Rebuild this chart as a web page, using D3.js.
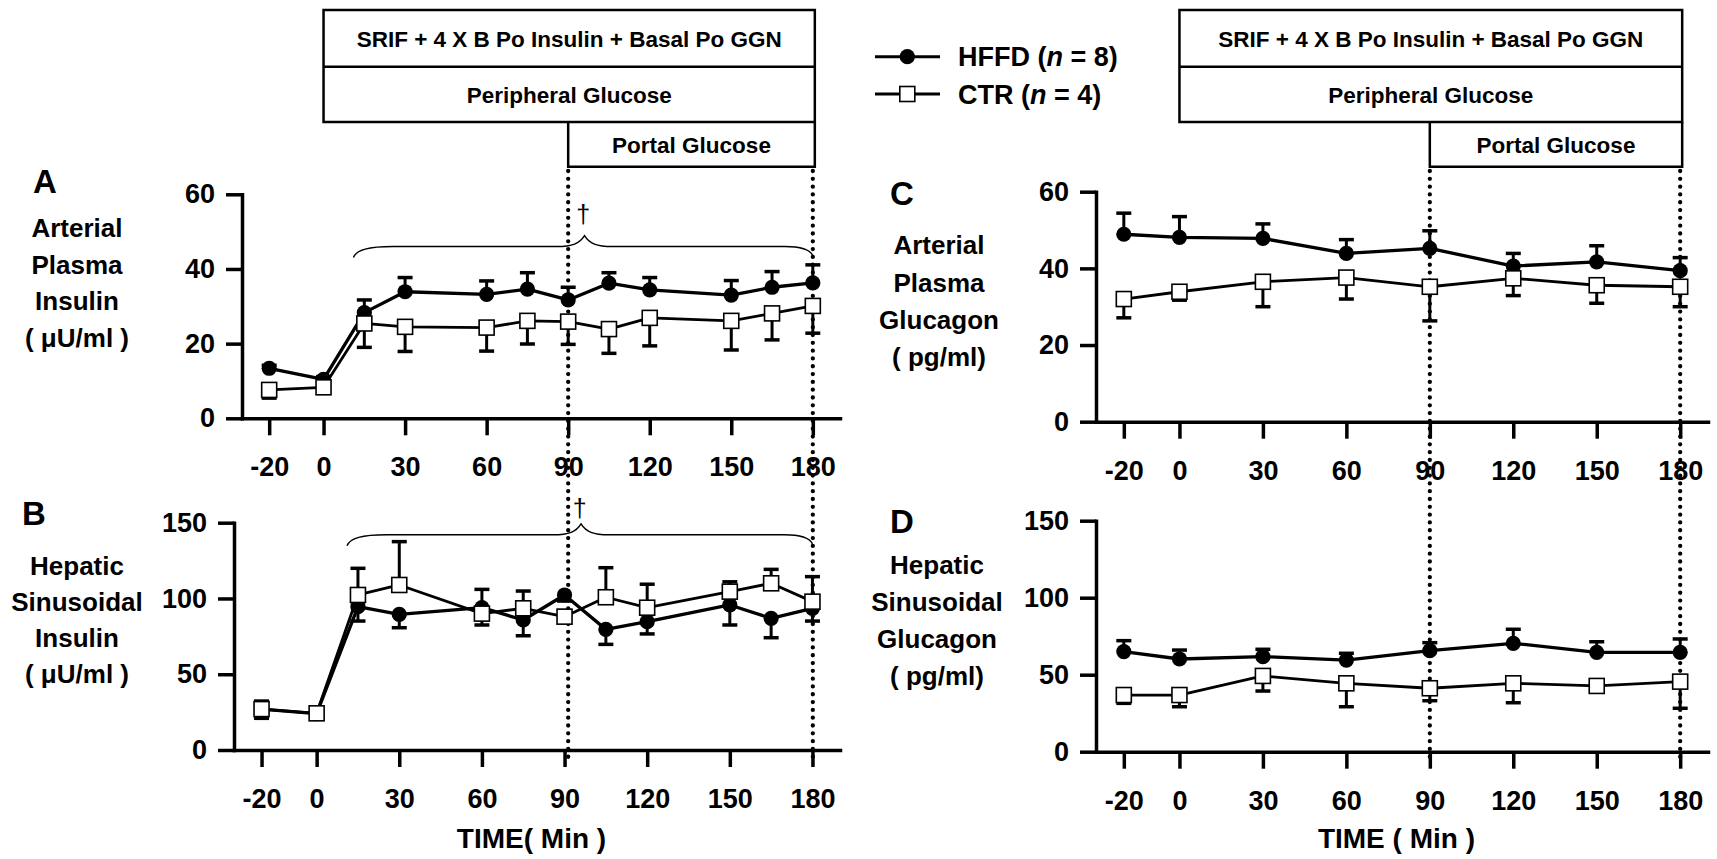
<!DOCTYPE html>
<html>
<head>
<meta charset="utf-8">
<script src="https://cdn.jsdelivr.net/npm/d3@7"></script>
<style>
  body { margin: 0; background: #fff; }
  svg { display: block; }
</style>
</head>
<body>
<svg id="chart" width="1717" height="859"></svg>
<script>
// ---- sampling times (min) and tick labels ----
const timesInsulin  = [-20, 0, 15, 30, 60, 75, 90, 105, 120, 150, 165, 180];
const timesGlucagon = [-20, 0, 30, 60, 90, 120, 150, 180];
const xTickValues   = [-20, 0, 30, 60, 90, 120, 150, 180];
const yTicksSmall   = [0, 20, 40, 60];
const yTicksLarge   = [0, 50, 100, 150];

// ---- A: arterial plasma insulin (µU/ml), mean and SEM ----
const artInsHFFD    = [13.4, 10.4, 28.3, 33.9, 33.2, 34.6, 31.7, 36.2, 34.4, 33.0, 35.1, 36.3];
const artInsHFFDsem = [0.8, 0.8, 3.4, 3.8, 3.6, 4.4, 3.4, 2.8, 3.3, 3.9, 4.2, 4.8];
const artInsCTR     = [7.6, 8.3, 25.4, 24.5, 24.3, 26.1, 25.9, 23.9, 26.9, 26.1, 28.1, 30.1];
const artInsCTRsem  = [2.2, 0.8, 6.4, 6.6, 6.3, 6.2, 6.1, 6.5, 7.5, 7.8, 7.1, 7.3];

// ---- B: hepatic sinusoidal insulin (µU/ml) ----
const hepInsHFFD    = [27.0, 24.0, 94.6, 89.5, 94.0, 85.8, 102.3, 79.6, 84.7, 95.7, 86.9, 93.5];
const hepInsHFFDsem = [6.1, 1.5, 9.5, 8.8, 11.5, 10.4, 4.0, 9.9, 8.1, 13.2, 12.8, 8.4];
const hepInsCTR     = [27.0, 24.2, 102.3, 108.9, 90.0, 93.5, 88.0, 100.8, 93.9, 104.5, 110.0, 97.9];
const hepInsCTRsem  = [5.3, 1.5, 17.6, 28.6, 16.0, 11.4, 4.0, 19.5, 15.5, 6.5, 9.2, 16.5];

// ---- C: arterial plasma glucagon (pg/ml) ----
const artGgnHFFD    = [48.9, 48.1, 47.8, 43.9, 45.2, 40.6, 41.7, 39.4];
const artGgnHFFDsem = [5.5, 5.4, 3.8, 3.6, 4.6, 3.3, 4.2, 3.4];
const artGgnCTR     = [32.0, 33.9, 36.5, 37.6, 35.2, 37.4, 35.6, 35.2];
const artGgnCTRsem  = [4.9, 2.2, 6.5, 5.6, 8.9, 4.5, 4.7, 5.2];

// ---- D: hepatic sinusoidal glucagon (pg/ml) ----
const hepGgnHFFD    = [65.0, 60.2, 61.7, 59.5, 65.6, 70.4, 64.5, 64.5];
const hepGgnHFFDsem = [7.1, 5.8, 4.8, 4.4, 5.2, 9.1, 6.9, 8.7];
const hepGgnCTR     = [36.8, 36.8, 49.2, 44.4, 41.2, 44.4, 42.7, 45.5];
const hepGgnCTRsem  = [5.4, 7.6, 9.8, 15.2, 8.1, 12.6, 3.1, 17.3];

// ---- protocol bars and annotation text ----
const protocolRows = ["SRIF + 4 X B Po Insulin + Basal Po GGN", "Peripheral Glucose"];
const portalLabel  = "Portal Glucose";
const clampWindow  = [0, 180];
const portalWindow = [90, 180];
const titleA = ["Arterial", "Plasma", "Insulin", "( \u03BCU/ml )"];
const titleB = ["Hepatic", "Sinusoidal", "Insulin", "( \u03BCU/ml )"];
const titleC = ["Arterial", "Plasma", "Glucagon", "( pg/ml)"];
const titleD = ["Hepatic", "Sinusoidal", "Glucagon", "( pg/ml)"];

const FONT = '"Liberation Sans", Arial, Helvetica, sans-serif';
const svg = d3.select("#chart");

function txt(parent, x, y, s, size, anchor, weight) {
  return parent.append("text")
    .attr("x", x).attr("y", y)
    .attr("font-family", FONT)
    .attr("font-size", size)
    .attr("font-weight", weight || "bold")
    .attr("text-anchor", anchor || "start")
    .attr("fill", "#000")
    .text(s);
}

const panels = [
  { letter: "A", letterPos: [33, 193], xr: [242, 840], yr: [418.3, 194.3], ymax: 60, yTicks: yTicksSmall,
    t: timesInsulin, hffd: artInsHFFD, hffdSem: artInsHFFDsem, ctr: artInsCTR, ctrSem: artInsCTRsem,
    hffdDir: 1, ctrDir: -1, title: titleA, titleX: 77, titleY: 228, titleGap: 36.5,
    brace: { level: 46, dagger: 52.3 } },
  { letter: "B", letterPos: [22, 525], xr: [234, 840], yr: [750, 522.7], ymax: 150, yTicks: yTicksLarge,
    t: timesInsulin, hffd: hepInsHFFD, hffdSem: hepInsHFFDsem, ctr: hepInsCTR, ctrSem: hepInsCTRsem,
    hffdDir: -1, ctrDir: 1, title: titleB, titleX: 77, titleY: 566, titleGap: 36,
    brace: { level: 142, dagger: 153.8 }, xTitle: "TIME( Min )" },
  { letter: "C", letterPos: [890, 205], xr: [1096, 1708], yr: [421.7, 191.7], ymax: 60, yTicks: yTicksSmall,
    t: timesGlucagon, hffd: artGgnHFFD, hffdSem: artGgnHFFDsem, ctr: artGgnCTR, ctrSem: artGgnCTRsem,
    hffdDir: 1, ctrDir: -1, title: titleC, titleX: 939, titleY: 245, titleGap: 37.2 },
  { letter: "D", letterPos: [890, 533], xr: [1096, 1708], yr: [751.7, 520.7], ymax: 150, yTicks: yTicksLarge,
    t: timesGlucagon, hffd: hepGgnHFFD, hffdSem: hepGgnHFFDsem, ctr: hepGgnCTR, ctrSem: hepGgnCTRsem,
    hffdDir: 1, ctrDir: -1, title: titleD, titleX: 937, titleY: 565, titleGap: 37, xTitle: "TIME ( Min )" }
];

panels.forEach(p => {
  p.x = d3.scaleLinear().domain([-30, 190]).range(p.xr);
  p.y = d3.scaleLinear().domain([0, p.ymax]).range(p.yr);
});

// ---- protocol boxes above each column ----
function drawProtocol(x) {
  const g = svg.append("g");
  const L = x(clampWindow[0]), R = x(clampWindow[1]) + 2;
  const top = 10, mid = 66.7, bot = 122, pbot = 166.7;
  const P = x(portalWindow[0]);
  const st = sel => sel.attr("fill", "none").attr("stroke", "#000").attr("stroke-width", 2.5);
  st(g.append("rect").attr("x", L).attr("y", top).attr("width", R - L).attr("height", bot - top));
  st(g.append("line").attr("x1", L).attr("x2", R).attr("y1", mid).attr("y2", mid));
  st(g.append("path").attr("d", `M${P},${bot}V${pbot}H${R}V${bot}`));
  txt(g, (L + R) / 2, (top + mid) / 2 + 8.2, protocolRows[0], 22.5, "middle");
  txt(g, (L + R) / 2, (mid + bot) / 2 + 8.2, protocolRows[1], 22.5, "middle");
  txt(g, (P + R) / 2, (bot + pbot) / 2 + 8.2, portalLabel, 22.5, "middle");
}
drawProtocol(panels[0].x);
drawProtocol(panels[2].x);

// ---- axes, titles ----
panels.forEach(p => {
  const g = svg.append("g");
  const ax = g.append("g").attr("transform", `translate(0,${p.yr[0]})`)
    .call(d3.axisBottom(p.x).tickValues(xTickValues).tickSize(17).tickSizeOuter(0)
      .tickPadding(22).tickFormat(d => String(d)));
  const ay = g.append("g").attr("transform", `translate(${p.xr[0]},0)`)
    .call(d3.axisLeft(p.y).tickValues(p.yTicks).tickSize(16).tickSizeOuter(0)
      .tickPadding(11).tickFormat(d => String(d)));
  [ax, ay].forEach(a => {
    a.select(".domain").attr("stroke", "#000").attr("stroke-width", 3.5).attr("stroke-linecap", "square");
    a.selectAll(".tick line").attr("stroke", "#000").attr("stroke-width", 3.5);
    a.selectAll(".tick text").attr("font-family", FONT).attr("font-size", 27)
      .attr("font-weight", "bold").attr("fill", "#000");
  });
  txt(g, p.letterPos[0], p.letterPos[1], p.letter, 33, "start");
  p.title.forEach((line, i) => {
    txt(g, p.titleX, p.titleY + i * p.titleGap + 9.3, line, 26, "middle");
  });
  if (p.xTitle) txt(g, p.x(78), 848, p.xTitle, 28, "middle");
});

// ---- dotted markers at start of portal glucose and end of study ----
[[panels[0].x], [panels[2].x]].forEach(([x]) => {
  portalWindow.forEach(t => {
    svg.append("line")
      .attr("x1", x(t)).attr("x2", x(t))
      .attr("y1", 171).attr("y2", 757)
      .attr("stroke", "#000").attr("stroke-width", 4.3)
      .attr("stroke-linecap", "round")
      .attr("stroke-dasharray", "0.01 7.8");
  });
});

// ---- significance brace and dagger over the insulin panels ----
panels.filter(p => p.brace).forEach(p => {
  const x0 = p.x(11), x1 = p.x(180), xm = p.x(96), yb = p.y(p.brace.level);
  const d = `M${x0},${yb + 11} C${x0 + 3},${yb + 3} ${x0 + 15},${yb} ${x0 + 40},${yb}` +
            ` L${xm - 28},${yb} C${xm - 12},${yb} ${xm - 5},${yb - 3} ${xm},${yb - 11}` +
            ` C${xm + 5},${yb - 3} ${xm + 12},${yb} ${xm + 28},${yb}` +
            ` L${x1 - 28},${yb} C${x1 - 12},${yb} ${x1 - 3},${yb + 3} ${x1},${yb + 9}`;
  svg.append("path").attr("d", d).attr("fill", "none").attr("stroke", "#000").attr("stroke-width", 1.4);
  txt(svg, p.x(95.5), p.y(p.brace.dagger), "\u2020", 25, "middle", "normal");
});

// ---- data: error bars, lines, markers ----
panels.forEach(p => {
  const g = svg.append("g");
  const series = [
    { v: p.hffd, sem: p.hffdSem, dir: p.hffdDir, kind: "hffd" },
    { v: p.ctr,  sem: p.ctrSem,  dir: p.ctrDir,  kind: "ctr" }
  ];
  series.forEach(s => {
    const pts = p.t.map((t, i) => ({ t, v: s.v[i], e: s.v[i] + s.dir * s.sem[i] }));
    const eg = g.append("g");
    eg.selectAll("line.stem").data(pts).join("line").attr("class", "stem")
      .attr("x1", d => p.x(d.t)).attr("x2", d => p.x(d.t))
      .attr("y1", d => p.y(d.v)).attr("y2", d => p.y(d.e))
      .attr("stroke", "#000").attr("stroke-width", 3);
    eg.selectAll("line.cap").data(pts).join("line").attr("class", "cap")
      .attr("x1", d => p.x(d.t) - 7.5).attr("x2", d => p.x(d.t) + 7.5)
      .attr("y1", d => p.y(d.e)).attr("y2", d => p.y(d.e))
      .attr("stroke", "#000").attr("stroke-width", 3.5);
    s.pts = pts;
  });
  series.forEach(s => {
    g.append("path").datum(s.pts)
      .attr("d", d3.line().x(d => p.x(d.t)).y(d => p.y(d.v)))
      .attr("fill", "none").attr("stroke", "#000")
      .attr("stroke-width", s.kind === "hffd" ? 3.3 : 2.8)
      .attr("stroke-linejoin", "round");
  });
  g.selectAll("circle").data(series[0].pts).join("circle")
    .attr("cx", d => p.x(d.t)).attr("cy", d => p.y(d.v)).attr("r", 7.6)
    .attr("fill", "#000");
  g.selectAll("rect").data(series[1].pts).join("rect")
    .attr("x", d => p.x(d.t) - 7.5).attr("y", d => p.y(d.v) - 7.5)
    .attr("width", 15).attr("height", 15)
    .attr("fill", "#fff").attr("stroke", "#000").attr("stroke-width", 1.6);
});

// ---- legend ----
const lg = svg.append("g");
const legendRows = [
  { y: 56.7, group: "HFFD", n: 8, kind: "hffd" },
  { y: 94,   group: "CTR",  n: 4, kind: "ctr" }
];
legendRows.forEach(r => {
  lg.append("line").attr("x1", 875).attr("x2", 940).attr("y1", r.y).attr("y2", r.y)
    .attr("stroke", "#000").attr("stroke-width", 3);
  if (r.kind === "hffd") {
    lg.append("circle").attr("cx", 907.3).attr("cy", r.y).attr("r", 7.6).attr("fill", "#000");
  } else {
    lg.append("rect").attr("x", 907.3 - 7.5).attr("y", r.y - 7.5).attr("width", 15).attr("height", 15)
      .attr("fill", "#fff").attr("stroke", "#000").attr("stroke-width", 1.6);
  }
  const t = txt(lg, 958, r.y + 9.7, "", 27, "start");
  t.append("tspan").text(r.group + " (");
  t.append("tspan").attr("font-style", "italic").text("n");
  t.append("tspan").text(" = " + r.n + ")");
});
</script>
</body>
</html>
